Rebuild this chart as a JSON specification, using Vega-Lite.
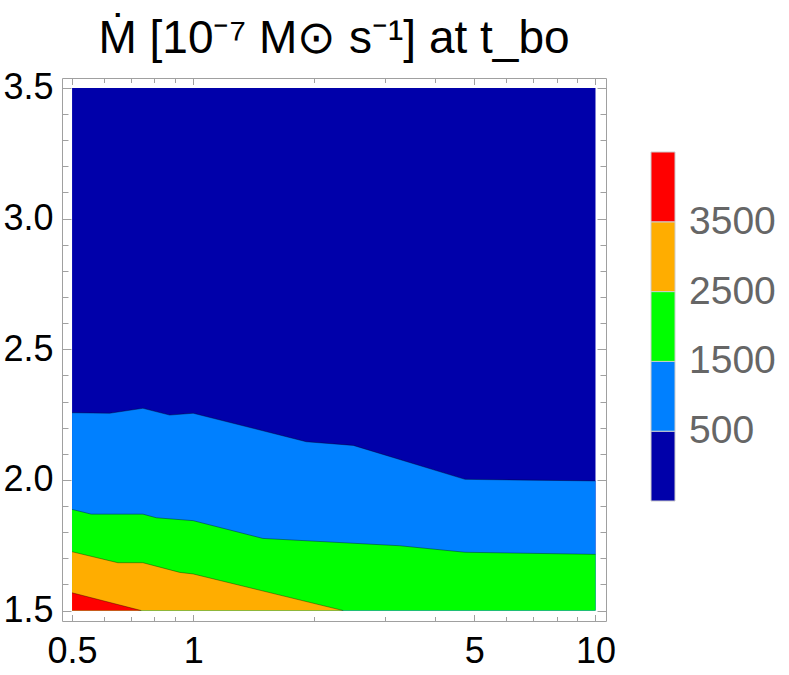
{
  "$schema": "https://vega.github.io/schema/vega-lite/v6.json",
  "width": 544,
  "height": 543,
  "autosize": "none",
  "padding": {"left": 62, "top": 78, "right": 183, "bottom": 54},
  "background": "white",
  "config": {"view": {"stroke": null}},
  "title": {
    "text": "Ṁ [10⁻⁷ M⊙ s⁻¹] at t_bo",
    "font": "Liberation Sans",
    "fontSize": 46,
    "fontWeight": "normal",
    "color": "black",
    "anchor": "middle",
    "frame": "group",
    "baseline": "alphabetic",
    "offset": -29
  },
  "data": {
    "values": [
      {"band": 0, "x": 0.5, "y": 3.5},
      {"band": 0, "x": 10, "y": 3.5},
      {"band": 1000, "x": 0.5, "y": 2.257},
      {"band": 1000, "x": 0.62, "y": 2.255},
      {"band": 1000, "x": 0.75, "y": 2.274},
      {"band": 1000, "x": 0.874, "y": 2.248},
      {"band": 1000, "x": 1.0, "y": 2.255},
      {"band": 1000, "x": 1.49, "y": 2.188},
      {"band": 1000, "x": 1.91, "y": 2.146},
      {"band": 1000, "x": 2.5, "y": 2.132},
      {"band": 1000, "x": 4.74, "y": 2.002},
      {"band": 1000, "x": 10, "y": 1.996},
      {"band": 2000, "x": 0.5, "y": 1.887},
      {"band": 2000, "x": 0.558, "y": 1.869},
      {"band": 2000, "x": 0.75, "y": 1.869},
      {"band": 2000, "x": 0.81, "y": 1.855},
      {"band": 2000, "x": 1.0, "y": 1.844},
      {"band": 2000, "x": 1.49, "y": 1.776},
      {"band": 2000, "x": 3.26, "y": 1.748},
      {"band": 2000, "x": 4.74, "y": 1.723},
      {"band": 2000, "x": 10, "y": 1.715},
      {"band": 3000, "x": 0.5, "y": 1.725},
      {"band": 3000, "x": 0.65, "y": 1.683},
      {"band": 3000, "x": 0.75, "y": 1.683},
      {"band": 3000, "x": 0.926, "y": 1.646},
      {"band": 3000, "x": 1.0, "y": 1.64},
      {"band": 3000, "x": 2.36, "y": 1.5},
      {"band": 4000, "x": 0.5, "y": 1.568},
      {"band": 4000, "x": 0.743, "y": 1.5}
    ]
  },
  "resolve": {"axis": {"x": "independent", "y": "independent"}},
  "layer": [
    {
      "transform": [{"filter": "datum.band == 0"}],
      "mark": {"type": "area", "interpolate": "linear"},
      "encoding": {
        "x": {
          "field": "x", "type": "quantitative",
          "scale": {"type": "log", "domain": [0.472, 10.62], "nice": false},
          "axis": {
            "orient": "bottom",
            "values": [0.5, 0.6, 0.7, 0.8, 0.9, 1, 2, 3, 4, 5, 6, 7, 8, 9, 10],
            "labelExpr": "indexof([0.5, 1, 5, 10], datum.value) >= 0 ? format(datum.value, '~g') : ''",
            "tickSize": {"condition": {"test": "indexof([0.5, 1, 5, 10], datum.value) >= 0", "value": -6.5}, "value": -4.5},
            "labelPadding": 20,
            "labelFont": "Liberation Sans",
            "labelFontSize": 36,
            "labelColor": "black",
            "labelOverlap": false,
            "labelFlush": false,
            "labelBound": false,
            "domainColor": "#a0a0a0",
            "tickColor": "#a0a0a0",
            "grid": false,
            "title": null
          }
        },
        "y": {
          "field": "y", "type": "quantitative",
          "scale": {"domain": [1.46, 3.538], "nice": false, "zero": false},
          "axis": {
            "orient": "left",
            "values": [1.5, 1.6, 1.7, 1.8, 1.9, 2.0, 2.1, 2.2, 2.3, 2.4, 2.5, 2.6, 2.7, 2.8, 2.9, 3.0, 3.1, 3.2, 3.3, 3.4, 3.5],
            "labelExpr": "indexof([1.5, 2, 2.5, 3, 3.5], datum.value) >= 0 ? format(datum.value, '.1f') : ''",
            "tickSize": {"condition": {"test": "indexof([1.5, 2, 2.5, 3, 3.5], datum.value) >= 0", "value": -9}, "value": -6},
            "labelPadding": 18,
            "labelFont": "Liberation Sans",
            "labelFontSize": 36,
            "labelColor": "black",
            "labelOverlap": false,
            "labelFlush": false,
            "labelBound": false,
            "domainColor": "#a0a0a0",
            "tickColor": "#a0a0a0",
            "grid": false,
            "title": null
          }
        },
        "y2": {"datum": 1.5},
        "color": {
          "field": "band", "type": "quantitative",
          "scale": {"type": "threshold", "domain": [500, 1500, 2500, 3500], "range": ["#0000AA", "#0080FF", "#00FF00", "#FFAD00", "#FF0000"]},
          "legend": {
            "type": "gradient",
            "orient": "none",
            "legendX": 589,
            "legendY": 74,
            "direction": "vertical",
            "gradientLength": 349,
            "gradientThickness": 24,
            "gradientStrokeColor": "#cccccc",
            "gradientStrokeWidth": 1,
            "title": null,
            "format": "d",
            "labelFont": "Liberation Sans",
            "labelFontSize": 39,
            "labelColor": "#666666",
            "labelOffset": 14,
            "labelOverlap": false
          }
        }
      }
    },
    {
      "transform": [{"filter": "datum.band == 1000"}],
      "mark": {"type": "area", "interpolate": "linear"},
      "encoding": {
        "x": {
          "field": "x", "type": "quantitative",
          "scale": {"type": "log", "domain": [0.472, 10.62], "nice": false},
          "axis": {
            "orient": "top",
            "values": [0.5, 0.6, 0.7, 0.8, 0.9, 1, 2, 3, 4, 5, 6, 7, 8, 9, 10],
            "labels": false,
            "tickSize": {"condition": {"test": "indexof([0.5, 1, 5, 10], datum.value) >= 0", "value": -6.5}, "value": -4.5},
            "domainColor": "#a0a0a0",
            "tickColor": "#a0a0a0",
            "grid": false,
            "title": null
          }
        },
        "y": {
          "field": "y", "type": "quantitative",
          "scale": {"domain": [1.46, 3.538], "nice": false, "zero": false},
          "axis": {
            "orient": "right",
            "values": [1.5, 1.6, 1.7, 1.8, 1.9, 2.0, 2.1, 2.2, 2.3, 2.4, 2.5, 2.6, 2.7, 2.8, 2.9, 3.0, 3.1, 3.2, 3.3, 3.4, 3.5],
            "labels": false,
            "tickSize": {"condition": {"test": "indexof([1.5, 2, 2.5, 3, 3.5], datum.value) >= 0", "value": -9}, "value": -6},
            "domainColor": "#a0a0a0",
            "tickColor": "#a0a0a0",
            "grid": false,
            "title": null
          }
        },
        "y2": {"datum": 1.5},
        "color": {
          "field": "band", "type": "quantitative",
          "scale": {"type": "threshold", "domain": [500, 1500, 2500, 3500], "range": ["#0000AA", "#0080FF", "#00FF00", "#FFAD00", "#FF0000"]},
          "legend": null
        }
      }
    },
    {
      "transform": [{"filter": "datum.band == 2000"}],
      "mark": {"type": "area", "interpolate": "linear"},
      "encoding": {
        "x": {"field": "x", "type": "quantitative", "scale": {"type": "log", "domain": [0.472, 10.62], "nice": false}, "axis": null},
        "y": {"field": "y", "type": "quantitative", "scale": {"domain": [1.46, 3.538], "nice": false, "zero": false}, "axis": null},
        "y2": {"datum": 1.5},
        "color": {
          "field": "band", "type": "quantitative",
          "scale": {"type": "threshold", "domain": [500, 1500, 2500, 3500], "range": ["#0000AA", "#0080FF", "#00FF00", "#FFAD00", "#FF0000"]},
          "legend": null
        }
      }
    },
    {
      "transform": [{"filter": "datum.band == 3000"}],
      "mark": {"type": "area", "interpolate": "linear"},
      "encoding": {
        "x": {"field": "x", "type": "quantitative", "scale": {"type": "log", "domain": [0.472, 10.62], "nice": false}, "axis": null},
        "y": {"field": "y", "type": "quantitative", "scale": {"domain": [1.46, 3.538], "nice": false, "zero": false}, "axis": null},
        "y2": {"datum": 1.5},
        "color": {
          "field": "band", "type": "quantitative",
          "scale": {"type": "threshold", "domain": [500, 1500, 2500, 3500], "range": ["#0000AA", "#0080FF", "#00FF00", "#FFAD00", "#FF0000"]},
          "legend": null
        }
      }
    },
    {
      "transform": [{"filter": "datum.band == 4000"}],
      "mark": {"type": "area", "interpolate": "linear"},
      "encoding": {
        "x": {"field": "x", "type": "quantitative", "scale": {"type": "log", "domain": [0.472, 10.62], "nice": false}, "axis": null},
        "y": {"field": "y", "type": "quantitative", "scale": {"domain": [1.46, 3.538], "nice": false, "zero": false}, "axis": null},
        "y2": {"datum": 1.5},
        "color": {
          "field": "band", "type": "quantitative",
          "scale": {"type": "threshold", "domain": [500, 1500, 2500, 3500], "range": ["#0000AA", "#0080FF", "#00FF00", "#FFAD00", "#FF0000"]},
          "legend": null
        }
      }
    },
    {
      "transform": [{"filter": "datum.band > 0"}],
      "mark": {"type": "line", "interpolate": "linear", "color": "black", "opacity": 0.35, "strokeWidth": 1},
      "encoding": {
        "x": {"field": "x", "type": "quantitative", "scale": {"type": "log", "domain": [0.472, 10.62], "nice": false}, "axis": null},
        "y": {"field": "y", "type": "quantitative", "scale": {"domain": [1.46, 3.538], "nice": false, "zero": false}, "axis": null},
        "detail": {"field": "band", "type": "nominal"}
      }
    }
  ]
}
